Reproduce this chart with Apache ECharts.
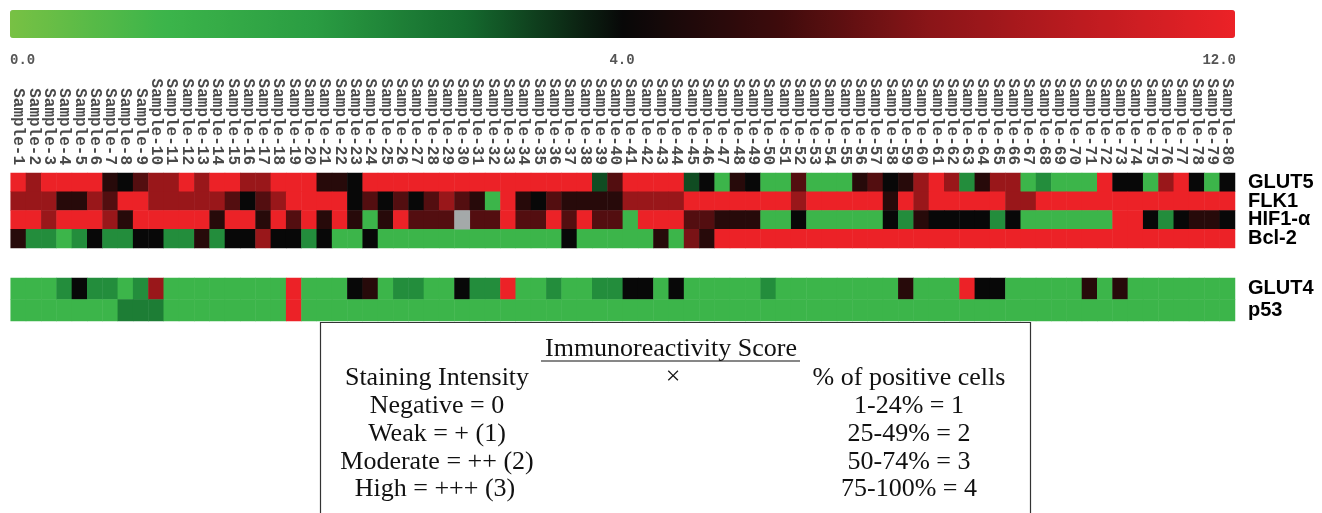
<!DOCTYPE html>
<html>
<head>
<meta charset="utf-8">
<script src="https://cdn.jsdelivr.net/npm/echarts@6/dist/echarts.min.js"></script>
<style>
html,body{margin:0;padding:0;background:#fff;}
#chart{width:1322px;height:513px;}
</style>
</head>
<body>
<div id="chart"></div>
<script>
// ---------- DATA ----------
const sampleLabels = Array.from({length: 80}, (_, i) => 'Sample-' + (i + 1));
const topMarkers = ['GLUT5', 'FLK1', 'HIF1-α', 'Bcl-2'];
const bottomMarkers = ['GLUT4', 'p53'];
const scaleTicks = ['0.0', '4.0', '12.0'];

const glut5 = [12,8.6,12,12,12,12,5.2,4,6.6,8.6, 8.6,12,8.6,12,12,8.6,8.6,12,12,12,
  5.2,5.2,4,12,12,12,12,12,12,12, 12,12,12,12,12,12,12,12,3.3,6.6,
  12,12,12,12,3.3,4,1,5.2,4,1, 1,6.6,1,1,1,5.2,6.6,4,5.2,8.6,
  12,8.6,2.3,5.2,8.6,8.6,1,2.3,1,1, 1,12,4,4,1,8.6,12,4,1,4];
const flk1 = [8.6,8.6,8.6,5.2,5.2,8.6,6.6,12,12,8.6, 8.6,8.6,8.6,8.6,6.6,4,6.6,8.6,12,12,
  12,12,4,6.6,4,6.6,4,6.6,8.6,6.6, 5.2,1,12,5.2,4,6.6,5.2,5.2,5.2,5.2,
  8.6,8.6,8.6,8.6,12,12,12,12,12,12, 12,8.6,12,12,12,12,12,5.2,12,8.6,
  12,12,12,12,12,8.6,8.6,12,12,12, 12,12,12,12,12,12,12,12,12,12];
const hif1a = [12,12,8.6,12,12,12,8.6,5.2,12,12, 12,12,12,5.2,12,12,5.2,12,6.6,12,
  5.2,12,5.2,1,5.2,12,6.6,6.6,6.6,null, 6.6,6.6,12,6.6,6.6,12,6.6,12,6.6,6.6,
  1,12,12,12,6.6,6.6,5.2,5.2,5.2,1, 1,4,1,1,1,1,1,4,2.3,5.2,
  4,4,4,4,2.3,4,1,1,1,1, 1,1,12,12,4,2.3,4,5.2,5.2,4];
const bcl2 = [5.2,2.3,2.3,1,2.3,4,2.3,2.3,4,4, 2.3,2.3,5.2,2.3,4,4,8.6,4,4,2.3,
  4,1,1,4,1,1,1,1,1,1, 1,1,1,1,1,1,4,1,1,1,
  1,1,5.2,1,7.6,5.2,12,12,12,12, 12,12,12,12,12,12,12,12,12,12,
  12,12,12,12,12,12,12,12,12,12, 12,12,12,12,12,12,12,12,12,12];
const glut4 = [1,1,1,2.3,4,2.3,2.3,1,2.3,8.6, 1,1,1,1,1,1,1,1,12,1,
  1,1,4,5.2,1,2.3,2.3,1,1,4, 2.3,2.3,12,1,1,2.3,1,1,2.3,2.3,
  4,4,1,4,1,1,1,1,1,2.3, 1,1,1,1,1,1,1,1,5.2,1,
  1,1,12,4,4,1,1,1,1,1, 5.2,1,5.2,1,1,1,1,1,1,1];
const p53 = [1,1,1,1,1,1,1,2.6,2.6,2.6, 1,1,1,1,1,1,1,1,12,1,
  1,1,1,1,1,1,1,1,1,1, 1,1,1,1,1,1,1,1,1,1,
  1,1,1,1,1,1,1,1,1,1, 1,1,1,1,1,1,1,1,1,1,
  1,1,1,1,1,1,1,1,1,1, 1,1,1,1,1,1,1,1,1,1];

const topRows = [glut5, flk1, hif1a, bcl2];
const bottomRows = [glut4, p53];

// ---------- BUILD ----------
// colour scale: 0 -> green, 4 -> black (centre of bar), 12 -> red
function toT(v) { return v <= 4 ? v / 8 : 0.5 + (v - 4) / 16; }
function build(rows) {
  const data = [], missing = [];
  rows.forEach((row, r) => row.forEach((v, c) => {
    if (v === null) missing.push([c, r, 0]);
    else data.push([c, r, toT(v)]);
  }));
  return {data, missing};
}
const topBuilt = build(topRows);
const botBuilt = build(bottomRows);

const chart = echarts.init(document.getElementById('chart'), null, {renderer: 'canvas'});
const GL = 10.7, GW = 1224.3;
const labelStyle = {fontFamily: 'Liberation Sans', fontWeight: 'bold', fontSize: 20, color: '#000'};
const serifFont = 'Liberation Serif';
function tx(text, x, y, align) {
  return {type: 'text', x: x, y: y, silent: true,
    style: {text: text, font: '26px "' + serifFont + '"', fill: '#111', align: align || 'center', verticalAlign: 'middle'}};
}
const tickFont = 'bold 14px "Liberation Mono"';

chart.setOption({
  backgroundColor: '#fff',
  animation: false,
  grid: [
    {left: GL, top: 173, width: GW, height: 75},
    {left: GL, top: 278, width: GW, height: 43}
  ],
  xAxis: [
    {type: 'category', gridIndex: 0, data: sampleLabels, position: 'top',
      axisLine: {show: false}, axisTick: {show: false}, splitLine: {show: false},
      axisLabel: {interval: 0, rotate: 90, margin: 8, fontFamily: 'Liberation Mono', fontWeight: 'bold', fontSize: 16, color: '#4a4a4a'}},
    {type: 'category', gridIndex: 1, data: sampleLabels, show: false}
  ],
  yAxis: [
    {type: 'category', gridIndex: 0, data: topMarkers, inverse: true, position: 'right',
      axisLine: {show: false}, axisTick: {show: false}, splitLine: {show: false},
      axisLabel: Object.assign({interval: 0, margin: 13}, labelStyle)},
    {type: 'category', gridIndex: 1, data: bottomMarkers, inverse: true, position: 'right',
      axisLine: {show: false}, axisTick: {show: false}, splitLine: {show: false},
      axisLabel: Object.assign({interval: 0, margin: 13}, labelStyle)}
  ],
  visualMap: {
    type: 'continuous', min: 0, max: 1, dimension: 2, seriesIndex: [0, 1],
    orient: 'horizontal', left: 10, top: 10, padding: 0,
    itemWidth: 28, itemHeight: 1225, calculable: false, hoverLink: false,
    text: null, showLabel: false,
    inRange: {color: ['#78c144', '#3cb54a', '#2a9c42', '#14692d', '#080808', '#3c0b0c', '#8a1518', '#bd1b20', '#ec2227']}
  },
  series: [
    {type: 'heatmap', xAxisIndex: 0, yAxisIndex: 0, data: topBuilt.data, emphasis: {disabled: true}, itemStyle: {borderWidth: 0}},
    {type: 'heatmap', xAxisIndex: 1, yAxisIndex: 1, data: botBuilt.data, emphasis: {disabled: true}, itemStyle: {borderWidth: 0}},
    {type: 'heatmap', xAxisIndex: 0, yAxisIndex: 0, data: topBuilt.missing, emphasis: {disabled: true}, itemStyle: {color: '#a4a9a9', borderWidth: 0}}
  ],
  graphic: [
    {type: 'text', x: 10, y: 60, silent: true, style: {text: scaleTicks[0], font: tickFont, fill: '#555', align: 'left', verticalAlign: 'middle'}},
    {type: 'text', x: 622, y: 60, silent: true, style: {text: scaleTicks[1], font: tickFont, fill: '#555', align: 'center', verticalAlign: 'middle'}},
    {type: 'text', x: 1236, y: 60, silent: true, style: {text: scaleTicks[2], font: tickFont, fill: '#555', align: 'right', verticalAlign: 'middle'}},
    {type: 'rect', silent: true, shape: {x: 320.5, y: 322.5, width: 710, height: 220}, style: {fill: 'none', stroke: '#333', lineWidth: 1.2}},
    tx('Immunoreactivity Score', 671, 349),
    {type: 'line', silent: true, shape: {x1: 541, y1: 361, x2: 800, y2: 361}, style: {stroke: '#111', lineWidth: 1.2}},
    tx('Staining Intensity', 437, 378),
    tx('×', 673, 377),
    tx('% of positive cells', 909, 378),
    tx('Negative = 0', 437, 406),
    tx('1-24% = 1', 909, 406),
    tx('Weak = + (1)', 437, 434),
    tx('25-49% = 2', 909, 434),
    tx('Moderate = ++ (2)', 437, 462),
    tx('50-74% = 3', 909, 462),
    tx('High = +++ (3)', 435, 489),
    tx('75-100% = 4', 909, 489)
  ]
});
</script>
</body>
</html>
